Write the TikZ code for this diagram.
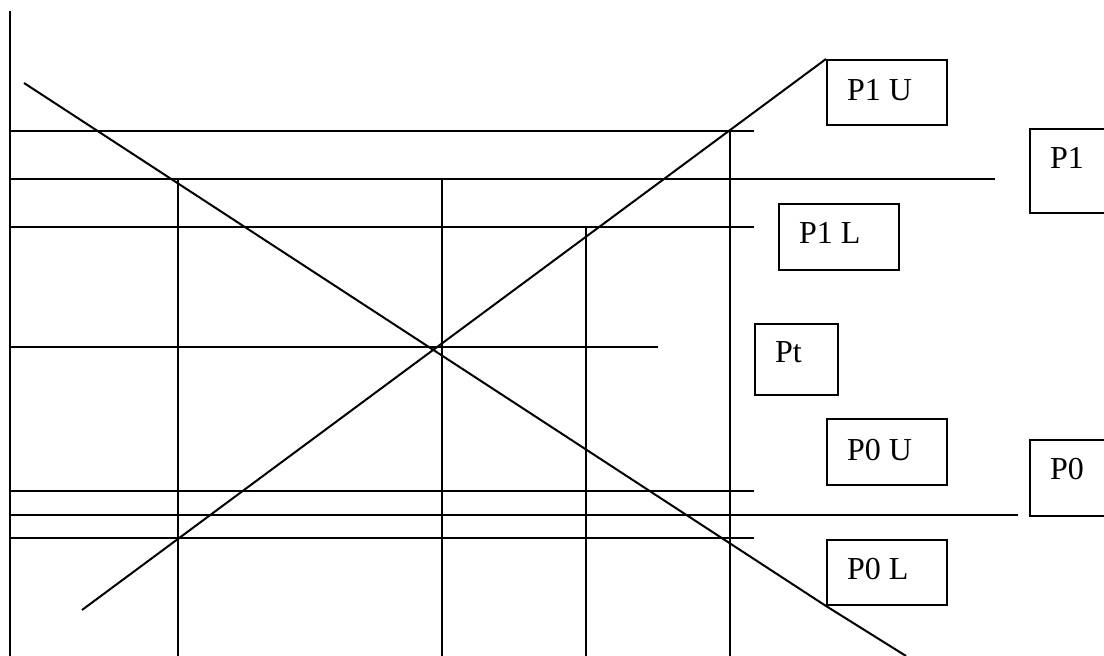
\documentclass[tikz,border=0pt]{standalone}
\usepackage{fontspec}
\setmainfont{Liberation Serif}
\usetikzlibrary{calc}
\begin{document}
\begin{tikzpicture}[x=0.5pt,y=-0.5pt,line width=1pt,
  pbox/.style={draw,line width=1pt,inner sep=0pt,anchor=north west},
  plabel/.style={anchor=base west,inner sep=0pt,font=\fontsize{16}{19}\selectfont}]
\useasboundingbox (0,0) rectangle (1104,656);
\clip (0,0) rectangle (1104,656);

% price level boxes (sizes in pt, i.e. half the pixel size)
\node[pbox, minimum width=60pt,   minimum height=32.5pt] (p1u) at (826,59) {};
\node[pbox, minimum width=50pt,   minimum height=42pt]   (p1)  at (1029,128) {};
\node[pbox, minimum width=60pt,   minimum height=33pt]   (p1l) at (778,203) {};
\node[pbox, minimum width=41.5pt, minimum height=35.5pt] (pt)  at (754,323) {};
\node[pbox, minimum width=60pt,   minimum height=33pt]   (p0u) at (826,418) {};
\node[pbox, minimum width=50pt,   minimum height=38pt]   (p0)  at (1029,439) {};
\node[pbox, minimum width=60pt,   minimum height=32.5pt] (p0l) at (826,539) {};

% labels inside the boxes
\node[plabel] (tp1u) at ($(p1u.north west)+(20,42)$) {P1 U};
\node[plabel] (tp1)  at ($(p1.north west)+(20,41)$)  {P1};
\node[plabel] (tp1l) at ($(p1l.north west)+(20,41)$) {P1 L};
\node[plabel] (tpt)  at ($(pt.north west)+(20,40)$)  {Pt};
\node[plabel] (tp0u) at ($(p0u.north west)+(20,43)$) {P0 U};
\node[plabel] (tp0)  at ($(p0.north west)+(20,41)$)  {P0};
\node[plabel] (tp0l) at ($(p0l.north west)+(20,41)$) {P0 L};

% vertical axis
\coordinate (axtop) at (10,11);
\coordinate (axbot) at (10,656);
\draw (axtop) -- (axbot);

% horizontal price lines
\draw (10,131) -- (754,131);
\draw (10,179) -- (995,179);
\draw (10,227) -- (754,227);
\draw (10,347) -- (658,347);
\draw (10,491) -- (754,491);
\draw (10,515) -- (1018,515);
\draw (10,538) -- (754,538);

% vertical time lines
\draw (178,179) -- (178,656);
\draw (442,179) -- (442,656);
\draw (586,227) -- (586,656);
\draw (730,131) -- (730,656);

% rising and falling diagonals
\coordinate (rise) at (82,610);
\draw (rise) -- (p1u.north west);
\coordinate (fallA) at (24,83);
\coordinate (fallB) at (906,656);
\draw (fallA) -- (p0l.south west) -- (fallB);
\end{tikzpicture}
\end{document}
